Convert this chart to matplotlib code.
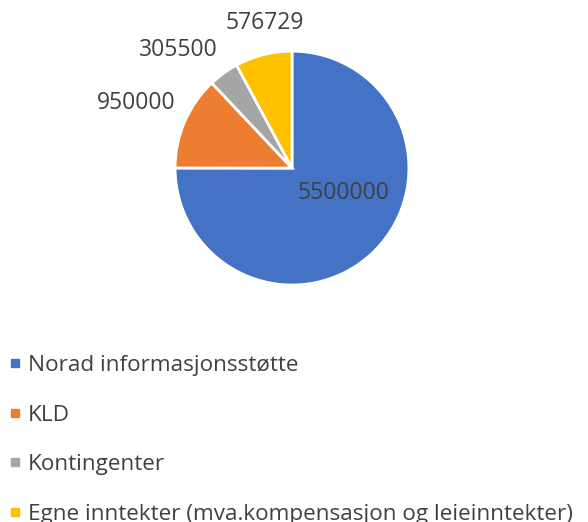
import matplotlib
matplotlib.use("Agg")
import matplotlib.pyplot as plt
from matplotlib.lines import Line2D

plt.rcParams["font.family"] = ["Open Sans", "DejaVu Sans"]

categories = [
    "Norad informasjonsstøtte",
    "KLD",
    "Kontingenter",
    "Egne inntekter (mva.kompensasjon og leieinntekter)",
]
values = [5500000, 950000, 305500, 576729]
colors = ["#4472C4", "#ED7D31", "#A5A5A5", "#FFC000"]
TEXT = "#404040"

fig = plt.figure(figsize=(5.88, 5.22), dpi=100)
ax = fig.add_axes([0.2976, 0.454, 0.398, 0.448])
wedges, _ = ax.pie(values, colors=colors, startangle=90, counterclock=False,
                   radius=1.0, wedgeprops=dict(edgecolor="white", linewidth=2))
ax.set_xlim(-1, 1)
ax.set_ylim(-1, 1)
ax.set_aspect("equal")

# data label positions (Excel best-fit placement)
label_pos = [(0.44, -0.21), (-1.33, 0.56), (-0.97, 1.01), (-0.23, 1.24)]
for (x, y), v in zip(label_pos, values):
    ax.text(x, y, str(v), ha="center", va="center", fontsize=16.5,
            color=TEXT, clip_on=False)

handles = [Line2D([0], [0], marker="s", linestyle="none", markersize=6,
                  markerfacecolor=c, markeredgecolor=c) for c in colors]
fig.legend(handles, categories, loc="upper left", bbox_to_anchor=(-0.002, 0.337),
           frameon=False, fontsize=16.2, labelcolor=TEXT, handlelength=0.6,
           handletextpad=0.3, labelspacing=1.27, borderaxespad=0)

fig.savefig("out.png", dpi=100, facecolor="white")
